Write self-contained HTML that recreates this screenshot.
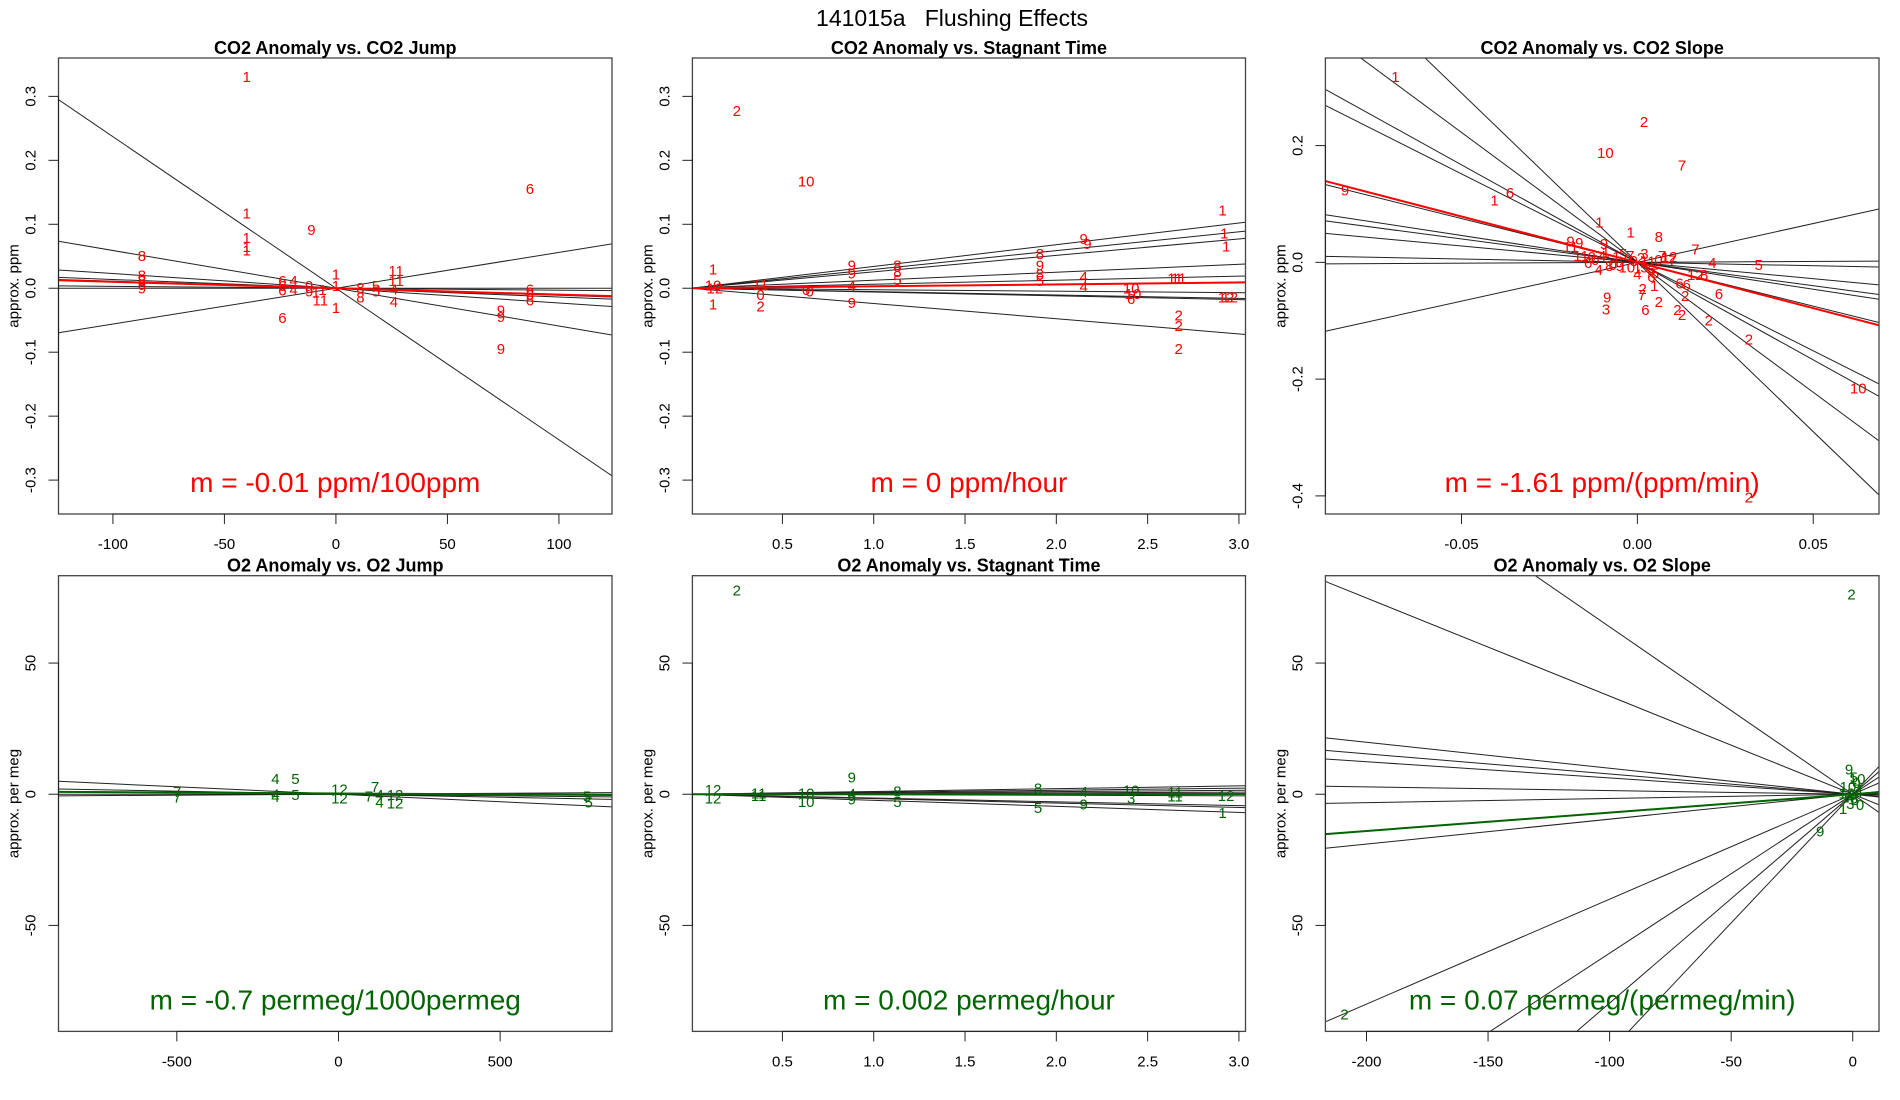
<!DOCTYPE html>
<html><head><meta charset="utf-8">
<style>
html,body{margin:0;padding:0;background:#fff;width:1900px;height:1100px;overflow:hidden;}
svg{display:block;font-family:"Liberation Sans",Arial,sans-serif;}
</style></head>
<body>
<svg id="chart" width="1900" height="1100" viewBox="0 0 1900 1100" xmlns="http://www.w3.org/2000/svg">
<text x="952" y="26" font-size="23" text-anchor="middle" xml:space="preserve">141015a   Flushing Effects</text>
</svg>
<script>
// ---------- Panel 1: CO2 Anomaly vs CO2 Jump ----------
const p1Slopes = [-0.00237,-0.00059,0.00056,-0.00023,-0.000137,-0.00011,0,-0.00003];
const p1Inter = [0,0,0,0,0,0,0,0];
const p1Fit = [-0.0001, 0];
const p1X = [-40,-40,-40,-40,-40,-11,87,-87,-87,-87,-87,-87,-24,-24,-24,-19,-19,-24,-12,-12,-6,-9,-7,0,0,0,11,11,18,18,27,27,26,26,87,87,87,74,74,74];
const p1Y = [0.331,0.118,0.079,0.065,0.06,0.092,0.156,0.051,0.021,0.012,0.007,0.0,0.012,0.004,-0.003,0.012,-0.002,-0.046,0.004,-0.004,-0.002,-0.006,-0.018,0.022,0.004,-0.03,0.001,-0.014,0.004,-0.004,0.028,0.012,-0.001,-0.021,-0.001,-0.01,-0.018,-0.034,-0.044,-0.094];
const p1L = ["1","1","1","1","1","9","6","8","8","8","8","9","6","6","6","4","4","6","9","9","1","1","11","1","1","1","8","8","5","5","11","11","4","4","6","6","6","9","9","9"];
const p1XT = [-100,-50,0,50,100];
const p1XTL = ["-100","-50","0","50","100"];
const p1YT = [-0.3,-0.2,-0.1,0,0.1,0.2,0.3];
const p1YTL = ["-0.3","-0.2","-0.1","0.0","0.1","0.2","0.3"];

// ---------- Panel 2: CO2 Anomaly vs Stagnant Time ----------
const p2Slopes = [0.034,0.0294,0.0257,0.0125,0.0063,-0.0023,-0.0059,-0.0238,-0.0053];
const p2Inter = [0,0,0,0,0,0,0,0,0];
const p2Fit = [0.003, 0];
const p2X = [0.25,0.63,2.91,2.92,2.93,1.91,1.91,2.15,2.17,1.91,1.91,0.88,0.88,1.13,1.13,1.13,2.15,2.15,2.65,2.67,0.12,0.12,0.12,0.13,0.38,0.38,0.38,0.88,0.88,0.63,0.65,2.41,2.42,2.41,2.67,2.67,2.67,2.93,2.95];
const p2Y = [0.278,0.168,0.122,0.086,0.066,0.054,0.036,0.078,0.07,0.022,0.012,0.036,0.024,0.036,0.026,0.014,0.018,0.003,0.016,0.016,0.03,0.005,-0.025,0.0,0.006,-0.01,-0.028,0.004,-0.022,-0.002,-0.004,0.0,-0.008,-0.016,-0.042,-0.058,-0.094,-0.014,-0.014];
const p2L = ["2","10","1","1","1","8","9","9","9","8","5","9","9","8","8","5","4","4","11","11","1","10","1","12","11","0","2","4","9","0","0","10","10","6","2","2","2","12","12"];
const p2XT = [0.5,1.0,1.5,2.0,2.5,3.0];
const p2XTL = ["0.5","1.0","1.5","2.0","2.5","3.0"];

// ---------- Panel 3: CO2 Anomaly vs CO2 Slope ----------
const p3Slopes = [-5.8,-4.45,-3.34,-3.03,-1.5,-0.92,-0.8,-0.56,-0.116,0.03,1.33];
const p3Inter = [0,0,0,0,0,0,0,0,0,0,0];
const p3Fit = [-1.57, 0];
const p3X = [-0.0688,0.0019,-0.0091,0.0127,-0.0831,-0.0362,-0.0406,-0.0108,-0.0019,0.0061,0.0165,-0.019,-0.0165,-0.019,-0.0095,0.0213,0.0345,0.0165,0.019,0.012,0.014,0.0232,0.0015,0.0013,0.0048,0.0136,-0.0086,-0.0089,0.0061,0.0023,0.0114,0.0127,0.0203,0.0317,0.0628,0.0317,0.004,
 -0.012,-0.01,-0.008,-0.006,-0.004,-0.003,-0.002,-0.001,0.0,0.001,0.002,0.003,0.004,0.006,0.008,0.01,-0.014,-0.011,-0.009,-0.005,0.0,0.005,-0.016,-0.013,0.007,0.009,-0.007,0.002];
const p3Y = [0.318,0.2416,0.188,0.167,0.124,0.12,0.107,0.069,0.052,0.044,0.023,0.037,0.034,0.0275,0.032,0.0,-0.004,-0.021,-0.021,-0.035,-0.038,-0.053,-0.045,-0.055,-0.04,-0.057,-0.059,-0.0795,-0.067,-0.081,-0.081,-0.089,-0.099,-0.131,-0.215,-0.402,-0.024,
 0.005,0.012,-0.005,0.01,0.015,-0.008,0.012,0.003,-0.01,0.008,0.015,0.002,-0.012,0.005,0.008,0.004,0.0,-0.012,0.018,-0.005,-0.02,-0.018,0.012,0.01,0.012,0.01,-0.004,-0.008];
const p3L = ["1","2","10","7","9","6","1","1","1","8","7","9","9","11","9","4","5","12","8","6","6","6","2","7","1","2","9","3","2","6","2","2","2","2","10","2","6",
 "0","4","8","1","5","10","7","9","1","2","3","11","6","0","1","7","6","4","1","9","4","5","11","0","7","12","0","5"];
const p3XT = [-0.05,0,0.05];
const p3XTL = ["-0.05","0.00","0.05"];
const p3YT = [-0.4,-0.2,0,0.2];
const p3YTL = ["-0.4","-0.2","0.0","0.2"];

// ---------- Panel 4: O2 Anomaly vs O2 Jump ----------
const p4Slopes = [-0.0057,-0.0023,-0.0012,0.0007,0];
const p4Inter = [0,0,0,0,0];
const p4Fit = [-0.0007, 0.3];
const p4X = [-195,-133,-499,-499,-195,-195,-133,3,3,113,94,127,127,175,175,769,774];
const p4Y = [6.0,6.0,1.0,-1.1,0,-0.8,-0.1,2.0,-1.4,3.0,-0.7,-0.1,-2.9,-0.1,-3.4,-0.7,-2.9];
const p4L = ["4","5","7","7","4","4","5","12","12","7","7","4","4","12","12","5","5"];
const p4XT = [-500,0,500];
const p4XTL = ["-500","0","500"];
const p4YT = [-50,0,50];
const p4YTL = ["-50","0","50"];

// ---------- Panel 5: O2 Anomaly vs Stagnant Time ----------
const p5Slopes = [1.06,0.76,0.5,0.26,-1.45,-1.68,-2.31,-0.2];
const p5Inter = [0,0,0,0,0,0,0,0];
const p5Fit = [0.03, 0];
const p5X = [0.25,0.12,0.12,0.37,0.37,0.63,0.63,0.88,0.88,0.88,1.13,1.13,1.9,1.9,2.15,2.15,2.41,2.41,2.65,2.65,2.93,2.91];
const p5Y = [77.8,1.9,-1.4,0.5,-0.5,0.4,-2.8,6.5,0.3,-1.8,1.2,-2.8,2.3,-5.1,1.0,-3.8,1.7,-1.5,0.8,-0.6,-0.5,-6.9];
const p5L = ["2","12","12","11","11","10","10","9","4","9","8","5","8","5","4","9","10","3","11","11","12","1"];

// ---------- Panel 6: O2 Anomaly vs O2 Slope ----------
const p6Slopes = [-0.374,-0.638,-0.099,-0.077,-0.062,-0.014,0.016,0.095,0.40,0.606,0.796,0.981];
const p6Inter = [0,0,0,0,0,0,0,0,0,0,0,0];
const p6Fit = [0.070, 0];
const p6X = [-0.5,-209,-13.4,-1.5,0.5,-2,1.5,2.5,-3,0,1,-1,3,-4,2,-2.5,0.5,1.8];
const p6Y = [76.4,-83.8,-14.1,9.7,6.5,3,4.5,1,-1,0,-2,-3.5,-4,-5.5,2,0.5,-1.5,6];
const p6L = ["2","2","9","9","5","10","0","4","1","8","5","3","0","1","7","12","6","10"];
const p6XT = [-200,-150,-100,-50,0];
const p6XTL = ["-200","-150","-100","-50","0"];

const RED = "#ff0000", GREEN = "#006400";
const panels = [
 {id:"co2-jump", title:"CO2 Anomaly vs. CO2 Jump", L:58.5,R:612,T:58,B:514, xlim:[-124.4,123.8], ylim:[-0.353,0.36],
  slopes:p1Slopes, inter:p1Inter, fit:p1Fit, px:p1X, py:p1Y, pl:p1L, xt:p1XT, xtl:p1XTL, yt:p1YT, ytl:p1YTL, col:RED, ytitle:"approx. ppm", m:"m = -0.01 ppm/100ppm"},
 {id:"co2-stagnant", title:"CO2 Anomaly vs. Stagnant Time", L:692.4,R:1245.5,T:58,B:514, xlim:[0.007,3.036], ylim:[-0.353,0.36],
  slopes:p2Slopes, inter:p2Inter, fit:p2Fit, px:p2X, py:p2Y, pl:p2L, xt:p2XT, xtl:p2XTL, yt:p1YT, ytl:p1YTL, col:RED, ytitle:"approx. ppm", m:"m = 0 ppm/hour"},
 {id:"co2-slope", title:"CO2 Anomaly vs. CO2 Slope", L:1325.4,R:1879,T:58,B:514, xlim:[-0.0887,0.0687], ylim:[-0.431,0.35],
  slopes:p3Slopes, inter:p3Inter, fit:p3Fit, px:p3X, py:p3Y, pl:p3L, xt:p3XT, xtl:p3XTL, yt:p3YT, ytl:p3YTL, col:RED, ytitle:"approx. ppm", m:"m = -1.61 ppm/(ppm/min)"},
 {id:"o2-jump", title:"O2 Anomaly vs. O2 Jump", L:58.5,R:612,T:575.7,B:1031.4, xlim:[-866,846], ylim:[-90.4,83.3],
  slopes:p4Slopes, inter:p4Inter, fit:p4Fit, px:p4X, py:p4Y, pl:p4L, xt:p4XT, xtl:p4XTL, yt:p4YT, ytl:p4YTL, col:GREEN, ytitle:"approx. per meg", m:"m = -0.7 permeg/1000permeg"},
 {id:"o2-stagnant", title:"O2 Anomaly vs. Stagnant Time", L:692.4,R:1245.5,T:575.7,B:1031.4, xlim:[0.007,3.036], ylim:[-90.4,83.3],
  slopes:p5Slopes, inter:p5Inter, fit:p5Fit, px:p5X, py:p5Y, pl:p5L, xt:p2XT, xtl:p2XTL, yt:p4YT, ytl:p4YTL, col:GREEN, ytitle:"approx. per meg", m:"m = 0.002 permeg/hour"},
 {id:"o2-slope", title:"O2 Anomaly vs. O2 Slope", L:1325.4,R:1879,T:575.7,B:1031.4, xlim:[-216.9,10.8], ylim:[-90.4,83.3],
  slopes:p6Slopes, inter:p6Inter, fit:p6Fit, px:p6X, py:p6Y, pl:p6L, xt:p6XT, xtl:p6XTL, yt:p4YT, ytl:p4YTL, col:GREEN, ytitle:"approx. per meg", m:"m = 0.07 permeg/(permeg/min)"}
];

const NS = "http://www.w3.org/2000/svg";
const svg = document.getElementById("chart");
function mk(tag, attrs, parent){ const e=document.createElementNS(NS,tag); for(const k in attrs) e.setAttribute(k,attrs[k]); (parent||svg).appendChild(e); return e; }

panels.forEach((p, pi) => {
  const g = mk("g", {});
  
  
  const sx = v => p.L + (v - p.xlim[0]) / (p.xlim[1] - p.xlim[0]) * (p.R - p.L);
  const sy = v => p.B - (v - p.ylim[0]) / (p.ylim[1] - p.ylim[0]) * (p.B - p.T);
  const cid = "clip" + pi;
  const cp = mk("clipPath", {id:cid}, g);
  mk("rect", {x:p.L, y:p.T, width:p.R-p.L, height:p.B-p.T}, cp);
  const lg = mk("g", {"clip-path":"url(#"+cid+")"}, g);
  
  
  p.slopes.forEach((s, i) => {
    const b = p.inter[i];
    const ln = mk("line", {x1:sx(p.xlim[0]), y1:sy(b + s*p.xlim[0]), x2:sx(p.xlim[1]), y2:sy(b + s*p.xlim[1]), stroke:"#222", "stroke-width":1}, lg);
    
    
  });
  const fl = mk("line", {x1:sx(p.xlim[0]), y1:sy(p.fit[1] + p.fit[0]*p.xlim[0]), x2:sx(p.xlim[1]), y2:sy(p.fit[1] + p.fit[0]*p.xlim[1]), stroke:p.col, "stroke-width":2}, lg);
  
  
  p.px.forEach((x, i) => {
    const t = mk("text", {x:sx(x), y:sy(p.py[i]) + 5.5, "font-size":15, fill:p.col, "text-anchor":"middle"}, g);
    t.textContent = p.pl[i];
    
    
  });
  const bx = mk("rect", {x:p.L, y:p.T, width:p.R-p.L, height:p.B-p.T, fill:"none", stroke:"#444", "stroke-width":1.3}, g);
  
  
  const tt = mk("text", {x:(p.L+p.R)/2, y:p.T-4, "font-size":18, "font-weight":"bold", "text-anchor":"middle"}, g);
  tt.textContent = p.title;
  
  
  const xa = mk("g", {}, g);
  
  
  mk("line", {x1:sx(p.xt[0]), y1:p.B, x2:sx(p.xt[p.xt.length-1]), y2:p.B, stroke:"#222"}, xa);
  p.xt.forEach((v, i) => {
    mk("line", {x1:sx(v), y1:p.B, x2:sx(v), y2:p.B+10, stroke:"#222"}, xa);
    const t = mk("text", {x:sx(v), y:p.B+35, "font-size":15, "text-anchor":"middle"}, xa);
    t.textContent = p.xtl[i];
    
    
  });
  const ya = mk("g", {}, g);
  
  
  mk("line", {x1:p.L, y1:sy(p.yt[0]), x2:p.L, y2:sy(p.yt[p.yt.length-1]), stroke:"#222"}, ya);
  p.yt.forEach((v, i) => {
    mk("line", {x1:p.L-10, y1:sy(v), x2:p.L, y2:sy(v), stroke:"#222"}, ya);
    const cx = p.L - 23, cy = sy(v);
    const t = mk("text", {x:cx, y:cy, "font-size":15, "text-anchor":"middle", transform:"rotate(-90 "+cx+" "+cy+")"}, ya);
    t.textContent = p.ytl[i];
    
    
  });
  const yx = p.L - 40, yy = (p.T + p.B)/2;
  const yt = mk("text", {x:yx, y:yy, "font-size":15, "text-anchor":"middle", transform:"rotate(-90 "+yx+" "+yy+")"}, g);
  yt.textContent = p.ytitle;
  
  
  const mt = mk("text", {x:(p.L+p.R)/2, y:p.B-22, "font-size":28, fill:p.col, "text-anchor":"middle"}, g);
  mt.textContent = p.m;
  
  
});
</script>
</body></html>
